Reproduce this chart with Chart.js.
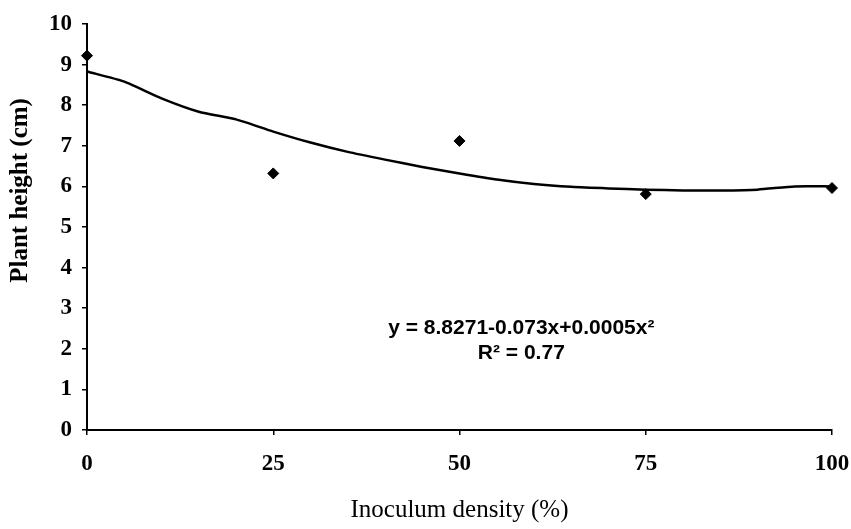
<!DOCTYPE html>
<html lang="en">
<head>
  <meta charset="utf-8">
  <title>Plant height vs inoculum density</title>
  <script src="https://cdn.jsdelivr.net/npm/chart.js@4.4.0/dist/chart.umd.min.js"></script>
  <style>
      html,body{margin:0;padding:0;background:#fff;}
      #wrap{width:851px;height:529px;position:relative;}
  </style>
</head>
<body>
<div id="wrap"><canvas id="heightChart"></canvas></div>

<script>
/* ---------------- data ---------------- */
const obsDensity = [0, 25, 50, 75, 100];
const obsHeight  = [9.22, 6.32, 7.12, 5.81, 5.96];

const fitDensity = [0, 5, 10, 15, 20, 25, 30, 35, 40, 45, 50, 55, 60, 65, 70, 75, 80, 85, 90, 95, 100];
const fitHeight  = [8.83, 8.58, 8.17, 7.84, 7.65, 7.35, 7.08, 6.85, 6.66, 6.48, 6.32, 6.17, 6.06, 5.99, 5.95, 5.92, 5.9, 5.9, 5.92, 6.0, 6.0];

const xTicks = [0, 25, 50, 75, 100];
const yTicks = [0, 1, 2, 3, 4, 5, 6, 7, 8, 9, 10];

const eqLines = ['y = 8.8271-0.073x+0.0005x\u00b2', 'R\u00b2 = 0.77'];
const yTitle = 'Plant height (cm)';
const xTitle = 'Inoculum density (%)';

const SERIF = '"Liberation Serif", "DejaVu Serif", serif';
const SANS  = '"Liberation Sans", "DejaVu Sans", sans-serif';

/* ---------------- equation + y title, placed through the scales ---------------- */
const textPlugin = {
  id: 'extraText',
  afterDraw(chart){
    const {ctx, scales:{x, y}} = chart;
    ctx.save();
    ctx.fillStyle = '#000';
    ctx.font = 'bold 21px ' + SANS;
    ctx.textAlign = 'center';
    ctx.textBaseline = 'middle';
    ctx.fillText(eqLines[0], x.getPixelForValue(58.3), y.getPixelForValue(2.51));
    ctx.fillText(eqLines[1], x.getPixelForValue(58.3), y.getPixelForValue(1.89));

    // y title sits a bit above the axis centre in the original
    ctx.translate(21, y.getPixelForValue(5.9));
    ctx.rotate(-Math.PI / 2);
    ctx.font = 'bold 25px ' + SERIF;
    ctx.fillText(yTitle, 0, 0);
    ctx.restore();
  }
};

new Chart(document.getElementById('heightChart'), {
  type: 'scatter',
  data: {
    datasets: [
      {
        label: 'Fit',
        data: fitDensity.map((d, i) => ({x: d, y: fitHeight[i]})),
        showLine: true,
        borderColor: '#000',
        borderWidth: 2.5,
        pointRadius: 0,
        tension: 0.2,
        clip: false
      },
      {
        label: 'Observed',
        data: obsDensity.map((d, i) => ({x: d, y: obsHeight[i]})),
        pointStyle: 'rectRot',
        pointRadius: 5.5,
        backgroundColor: '#000',
        borderColor: '#000',
        clip: false
      }
    ]
  },
  options: {
    responsive: true,
    maintainAspectRatio: false,
    animation: false,
    layout: {padding: {left: 0, right: 19, top: 24, bottom: 0}},
    plugins: {legend: {display: false}, tooltip: {enabled: false}},
    scales: {
      x: {
        type: 'linear',
        min: 0, max: 100,
        afterBuildTicks: s => { s.ticks = xTicks.map(v => ({value: v})); },
        afterFit: s => { s.height = 99; s.paddingLeft = 0; s.paddingRight = 0; },
        border: {color: '#000', width: 2},
        grid: {drawOnChartArea: false, drawTicks: true, tickLength: 5, color: '#000', lineWidth: 1.5},
        ticks: {color: '#000', font: {family: SERIF, size: 23, weight: 'bold'}, padding: 15, maxRotation: 0},
        title: {display: true, text: xTitle, color: '#000',
                font: {family: SERIF, size: 25}, padding: {top: 22}}
      },
      y: {
        min: 0, max: 10,
        afterBuildTicks: s => { s.ticks = yTicks.map(v => ({value: v})); },
        afterFit: s => { s.width = 87; s.paddingTop = 0; s.paddingBottom = 0; },
        border: {color: '#000', width: 2},
        grid: {drawOnChartArea: false, drawTicks: true, tickLength: 5, color: '#000', lineWidth: 1.5},
        ticks: {color: '#000', font: {family: SERIF, size: 23, weight: 'bold'}, padding: 10},
        title: {display: false}
      }
    }
  },
  plugins: [textPlugin]
});
</script>
</body>
</html>
